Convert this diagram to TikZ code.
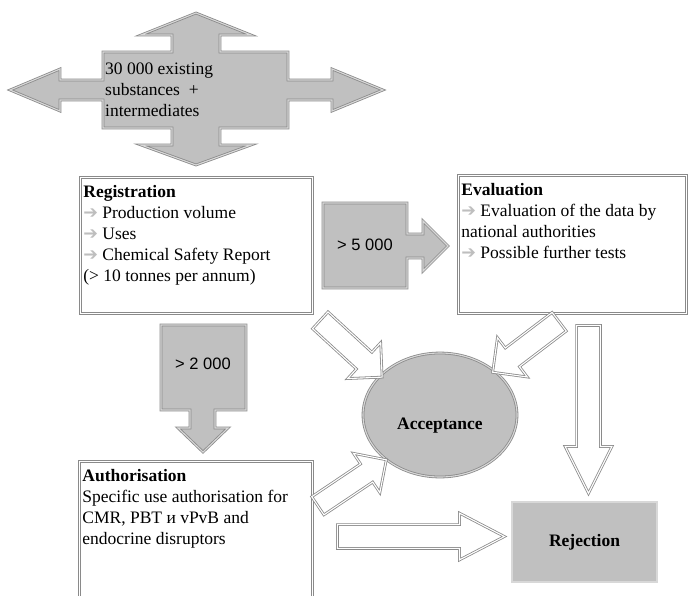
\documentclass[tikz,border=0pt]{standalone}
\usepackage{fontspec}
\setmainfont{Liberation Serif}
\newfontfamily\sansfont{Liberation Sans}
\newfontfamily\symfont{DejaVu Sans}
\usepackage{tikz}
\usetikzlibrary{shapes.geometric,shapes.arrows,positioning,calc}

\definecolor{boxgray}{HTML}{C0C0C0}
\definecolor{edgegray}{HTML}{8A8A8A}
\definecolor{edgelight}{HTML}{D8D8D8}
\definecolor{pointgray}{HTML}{BEBEBE}

\newcommand{\pointer}{{\symfont\bfseries\textcolor{pointgray}{➔}}\ }

\tikzset{
  frame/.style={draw=edgegray, line width=0.8pt, double=white, double distance=1.1pt},
  greyshape/.style={fill=boxgray, draw=edgegray, line width=0.8pt, double=edgelight, double distance=1.1pt},
  textbox/.style={frame, fill=white, anchor=north west, inner sep=3pt},
  hollow/.style={single arrow, frame, fill=white, inner sep=0pt, sloped, allow upside down, anchor=tail, pos=0},
  boldtext/.style={font=\fontsize{17.5}{21}\selectfont\bfseries},
  sanstext/.style={font=\sansfont\fontsize{16.5}{20}\selectfont},
}

\begin{document}
\begin{tikzpicture}[x=1pt, y=-1pt, font=\fontsize{17.5}{21}\selectfont]
    \clip (0,0) rectangle (688,595);

    % existing substances
    \draw[greyshape] (196,13) -- (251,35) -- (220,35) -- (220,52) -- (288,52) -- (288,80) -- (332,80) -- (332,69)
        -- (383,90) -- (332,111) -- (332,100) -- (288,100) -- (288,128) -- (220,128) -- (220,145) -- (251,145)
        -- (196,165) -- (141,145) -- (172,145) -- (172,128) -- (103,128) -- (103,100) -- (60,100) -- (60,111)
        -- (10,90) -- (60,69) -- (60,80) -- (103,80) -- (103,52) -- (172,52) -- (172,35) -- (141,35) -- cycle;
    \node[anchor=north west, align=left, inner sep=0pt] (pool) at (105,63) {30 000 existing\\substances~ +\\intermediates};

    % boxes
    \node[textbox] (reg) at (80,177) {\parbox[c][130pt][t]{226pt}{\raggedright\rule{0pt}{17pt}\textbf{Registration}\\
        \pointer Production volume\\ \pointer Uses\\ \pointer Chemical Safety Report\\ (> 10 tonnes per annum)}};
    \node[textbox] (eval) at (458,175) {\parbox[c][132pt][t]{222pt}{\raggedright\rule{0pt}{17pt}\textbf{Evaluation}\\
        \pointer Evaluation of the data by\\ national authorities\\ \pointer Possible further tests}};
    \node[textbox] (auth) at (79,461) {\parbox[c][160pt][t]{227pt}{\raggedright\rule{0pt}{17pt}\textbf{Authorisation}\\
        Specific use authorisation for\\ CMR, PBT и vPvB and\\ endocrine disruptors}};

    % callouts
    \draw[greyshape] (323,203) -- (407,203) -- (407,234) -- (423,234) -- (423,221) -- (448,246) -- (423,271)
        -- (423,258) -- (407,258) -- (407,288) -- (323,288) -- cycle;
    \node[sanstext] (many) at (365,245) {> 5 000};
    \draw[greyshape] (161,325) -- (246,325) -- (246,410) -- (215,410) -- (215,428) -- (228,428) -- (203,452)
        -- (178,428) -- (190,428) -- (190,410) -- (161,410) -- cycle;
    \node[sanstext] (fewer) at (203,364) {> 2 000};

    % outcomes
    \node[ellipse, greyshape, boldtext, minimum width=154pt, minimum height=124pt, text height=28pt, text depth=0pt]
        (accept) at (440,415) {Acceptance};
    \node[rectangle, greyshape, boldtext, minimum width=145pt, minimum height=80pt] (reject) at (584.5,542) {Rejection};

    % hollow arrows
    \coordinate (ra) at (320,320);
    \coordinate (rb) at (382,377);
    \coordinate (ea) at (559.5,321.5);
    \coordinate (eb) at (493,372);
    \coordinate (ec) at (588.5,325);
    \coordinate (ed) at (588.5,493);
    \coordinate (aa) at (317.5,506);
    \coordinate (ab) at (386,460);
    \coordinate (ac) at (337,536.5);
    \coordinate (ad) at (504,536.5);
    \path (ra) -- (rb) node[hollow, minimum height=84pt, inner ysep=11pt, single arrow head extend=13pt] (regacc) {};
    \path (ea) -- (eb) node[hollow, minimum height=83.5pt, inner ysep=11.3pt, single arrow head extend=13pt] (evalacc) {};
    \path (ec) -- (ed) node[hollow, minimum height=168pt, inner ysep=11.5pt, single arrow head extend=11.5pt,
        single arrow tip angle=53] (evalrej) {};
    \path (aa) -- (ab) node[hollow, minimum height=82.5pt, inner ysep=10.5pt, single arrow head extend=12.8pt] (authacc) {};
    \path (ac) -- (ad) node[hollow, minimum height=167pt, inner ysep=11.5pt, single arrow head extend=11.5pt,
        single arrow tip angle=55] (authrej) {};
\end{tikzpicture}
\end{document}
